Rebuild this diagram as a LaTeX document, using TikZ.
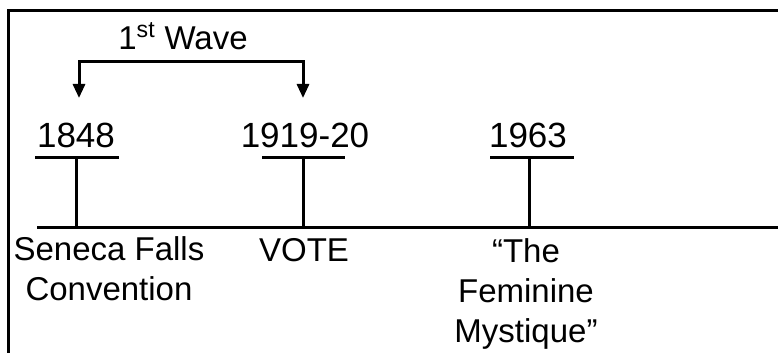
\documentclass[tikz,border=0pt]{standalone}
\usepackage{fontspec}
\setmainfont{Liberation Sans}
\usetikzlibrary{arrows.meta}

\tikzset{every picture/.style={line width=2.25pt}}
\tikzset{
  yearlabel/.style={anchor=base,inner sep=0.75pt,font=\fontsize{26.25}{30}\selectfont},
  eventlabel/.style={anchor=base,inner sep=0.75pt,align=center,font=\fontsize{24.75}{30}\selectfont},
  wavearrow/.style={{Triangle[width=9pt,length=10.5pt]}-{Triangle[width=9pt,length=10.5pt]}},
}

\begin{document}
\begin{tikzpicture}[x=0.75pt,y=0.75pt,yscale=-1,xscale=1]
\useasboundingbox (0,0) rectangle (778,353);

%Frame
\draw    (8,353) -- (8,11) -- (778,11) ;

%Axis
\coordinate (axisL) at (37,227);
\coordinate (axisR) at (778,227);
\draw    (axisL) -- (axisR) ;

%Bars and ticks
\coordinate (barA1) at (35,157);
\coordinate (barA2) at (119,157);
\coordinate (tickA) at (76,157);
\coordinate (footA) at (76,227);
\draw    (barA1) -- (barA2) ;
\draw    (tickA) -- (footA) ;

\coordinate (barB1) at (262,157);
\coordinate (barB2) at (345,157);
\coordinate (tickB) at (303,157);
\coordinate (footB) at (303,227);
\draw    (barB1) -- (barB2) ;
\draw    (tickB) -- (footB) ;

\coordinate (barC1) at (490,157);
\coordinate (barC2) at (574,157);
\coordinate (tickC) at (529,157);
\coordinate (footC) at (529,227);
\draw    (barC1) -- (barC2) ;
\draw    (tickC) -- (footC) ;

%Wave bracket
\coordinate (waveA) at (79,98);
\coordinate (waveB) at (303,98);
\draw [wavearrow]   (waveA) -- (79,62) -- (303,62) -- (waveB) ;

% Text Node
\node (wave) [anchor=base,inner sep=0.75pt,font=\fontsize{24.75}{30}\selectfont] at (183,50) {1\textsuperscript{st} Wave};
% Text Node
\node (y1848) [yearlabel] at (76,147) {1848};
% Text Node
\node (y1919) [yearlabel] at (305,147) {1919-20};
% Text Node
\node (y1963) [yearlabel] at (528,147) {1963};
% Text Node
\node (seneca) [eventlabel] at (109,300) {Seneca Falls\\Convention};
% Text Node
\node (vote) [eventlabel] at (304,261) {VOTE};
% Text Node
\node (mystique) [eventlabel] at (526,342) {``The\\Feminine\\Mystique''};

\end{tikzpicture}
\end{document}
